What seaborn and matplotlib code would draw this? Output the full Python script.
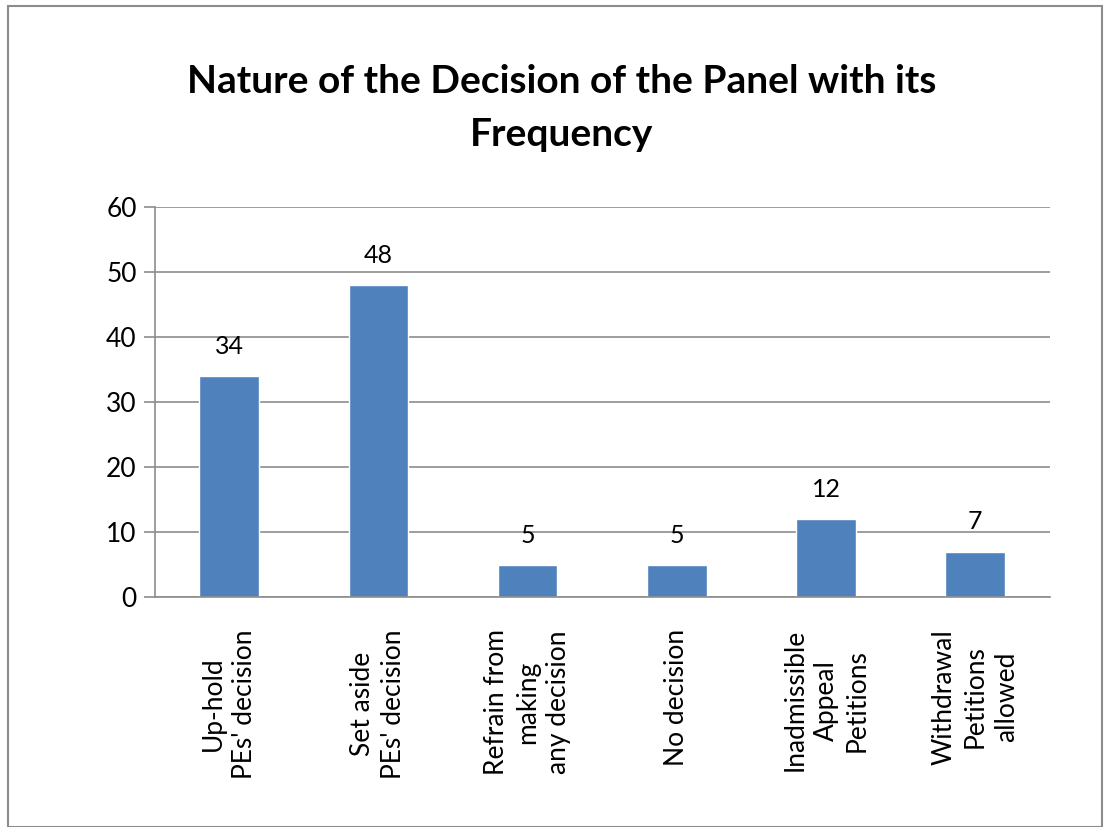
import matplotlib
matplotlib.use("Agg")
import matplotlib.pyplot as plt
import seaborn as sns
from matplotlib.patches import Rectangle

# --- datos --- #
CATEGORIAS = [
    "Up-hold\nPEs' decision",
    "Set aside\nPEs' decision",
    "Refrain from\nmaking\nany decision",
    "No decision",
    "Inadmissible\nAppeal\nPetitions",
    "Withdrawal\nPetitions\nallowed",
]
FRECUENCIAS = [34, 48, 5, 5, 12, 7]
TICKS_Y = [0, 10, 20, 30, 40, 50, 60]
TITULO = "Nature of the Decision of the Panel with its\nFrequency"

AZUL = "#4F81BD"
GRIS = "#8C8C8C"

sns.set_style("white")
plt.rcParams['font.family'] = ['Lato', 'DejaVu Sans']
plt.rcParams['text.color'] = 'black'
plt.rcParams['xtick.color'] = 'black'
plt.rcParams['ytick.color'] = 'black'

fig = plt.figure(figsize=(11.05, 8.27), dpi=100)
ax = fig.add_axes([0.140, 0.278, 0.810, 0.472])

sns.barplot(x=CATEGORIAS, y=FRECUENCIAS, color=AZUL, width=0.4,
            saturation=1, ax=ax)

ax.set_ylim(0, 60)
ax.set_xlim(-0.5, len(CATEGORIAS) - 0.5)
ax.set_yticks(TICKS_Y)
ax.set_yticklabels([str(t) for t in TICKS_Y], fontsize=19)
ax.yaxis.grid(True, color=GRIS, linewidth=1.2)
ax.set_axisbelow(True)

# ticks del eje x en los limites de cada categoria
ax.set_xticks(range(len(CATEGORIAS)))
ax.set_xticklabels(CATEGORIAS, rotation=90, fontsize=19, linespacing=1.3,
                   multialignment='center')
ax.tick_params(axis='x', which='major', length=0, pad=23)
ax.set_xticks([i - 0.5 for i in range(len(CATEGORIAS) + 1)], minor=True)
ax.tick_params(axis='x', which='minor', length=10, color=GRIS, width=1.2)
ax.tick_params(axis='y', length=8, color=GRIS, labelcolor='black', width=1.2, left=True, pad=5)

for lado in ['top', 'right']:
    ax.spines[lado].set_visible(False)
for lado in ['left', 'bottom']:
    ax.spines[lado].set_color(GRIS)
    ax.spines[lado].set_linewidth(1.2)

for p, v in zip(ax.patches, FRECUENCIAS):
    ax.annotate(f"{v}", (p.get_x() + p.get_width() / 2, v),
                xytext=(0, 13), textcoords='offset points',
                ha='center', va='bottom', fontsize=18)

ax.set_xlabel("")
ax.set_ylabel("")

fig.text(0.508, 0.869, TITULO, ha='center', va='center', fontsize=28,
         fontweight='bold', linespacing=1.62)

# marco exterior
fig.patches.append(Rectangle((0.007, 0.0), 0.99, 0.993, transform=fig.transFigure,
                             fill=False, edgecolor=GRIS, linewidth=1.5))

fig.savefig("out.png", dpi=100)
